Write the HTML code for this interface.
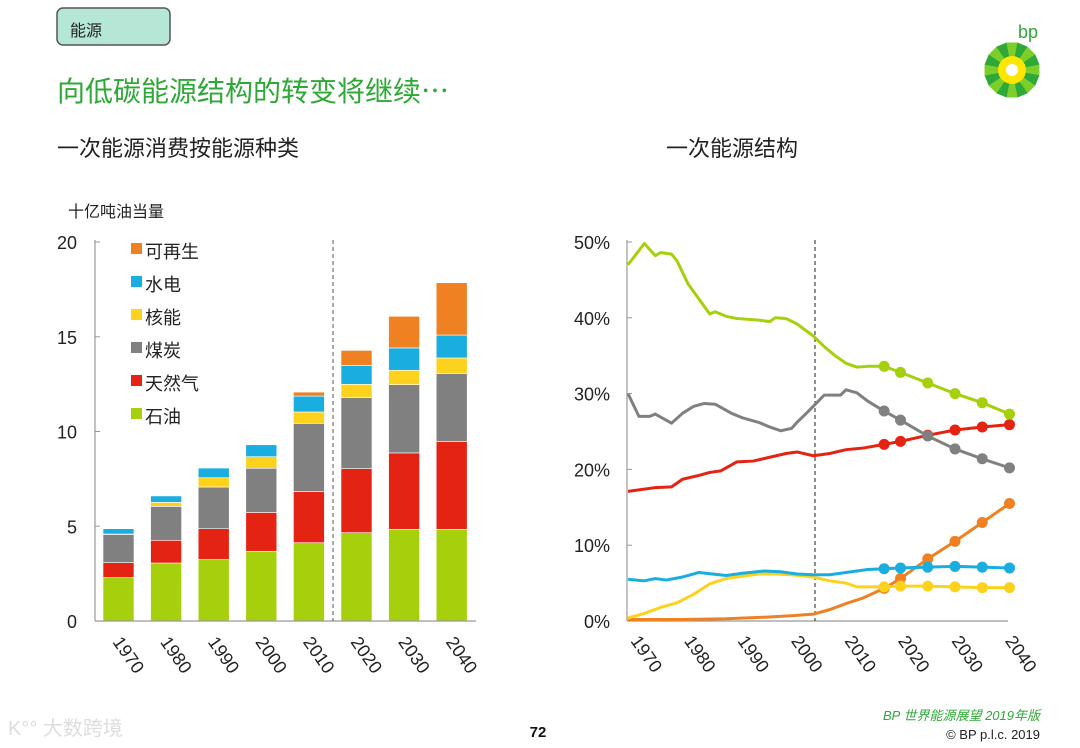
<!DOCTYPE html>
<html><head><meta charset="utf-8"><style>
html,body{margin:0;padding:0;background:#fff;width:1080px;height:748px;overflow:hidden}
svg{display:block;font-family:"Liberation Sans","Noto Sans CJK SC",sans-serif}
</style></head><body>
<svg id="s" width="1080" height="748" viewBox="0 0 1080 748" xmlns="http://www.w3.org/2000/svg">
<g>
<rect x="57" y="8" width="113" height="37" rx="6" fill="#b5e6d6" stroke="#555" stroke-width="1.5"/>
<text x="70" y="36" font-size="16" fill="#222">能源</text></g>
<text x="57" y="101" font-size="28" fill="#2ea836">向低碳能源结构的转变将继续⋯</text>
<text x="57" y="156" font-size="22" fill="#222">一次能源消费按能源种类</text>
<text x="666" y="156" font-size="22" fill="#222">一次能源结构</text>
<text x="68" y="217" font-size="16" fill="#222">十亿吨油当量</text>
<g>
<text x="1018" y="38" font-size="18" fill="#2ea836">bp</text>
<g id="sun"></g></g>
<g id="left"></g>
<g id="right"></g>
<text x="538" y="737" font-size="15" font-weight="bold" text-anchor="middle" fill="#111">72</text>
<text x="1040" y="720" font-size="13" fill="#2ea836" text-anchor="end" font-style="italic">BP 世界能源展望 2019年版</text>
<text x="1040" y="739" font-size="13" fill="#222" text-anchor="end">© BP p.l.c. 2019</text>
<text x="8" y="735" font-size="20" fill="#ddd">K°° 大数跨境</text>
</svg>
<script>
const NS="http://www.w3.org/2000/svg";
function mk(p,t,a){const e=document.createElementNS(NS,t);for(const k in a)e.setAttribute(k,a[k]);p.appendChild(e);return e;}
const sun=document.getElementById('sun');
for(let i=0;i<16;i++){const a=i*Math.PI/8,c=i%2?'#2ea836':'#7ccf2a';
mk(sun,'polygon',{points:[1012,70,1012+28*Math.cos(a-0.2),70+28*Math.sin(a-0.2),1012+28*Math.cos(a+0.2),70+28*Math.sin(a+0.2)].join(','),fill:c});}
mk(sun,'circle',{cx:1012,cy:70,r:14,fill:'#ffe600'});
mk(sun,'circle',{cx:1012,cy:70,r:6,fill:'#fff'});

// ===== Left stacked bar chart =====
const barYears=["1970","1980","1990","2000","2010","2020","2030","2040"];
const oil=[2.29,3.06,3.24,3.68,4.13,4.66,4.84,4.84];
const gas=[0.79,1.20,1.63,2.05,2.71,3.38,4.03,4.64];
const coal=[1.49,1.79,2.20,2.33,3.59,3.75,3.60,3.57];
const nuclear=[0.02,0.21,0.49,0.61,0.60,0.70,0.76,0.83];
const hydro=[0.28,0.34,0.51,0.63,0.84,1.00,1.18,1.21];
const renew=[0,0,0,0,0.21,0.79,1.67,2.76];
const barTicks=[0,5,10,15,20];
const series=[["oil",oil,"#a6cf0c","石油"],["gas",gas,"#e42313","天然气"],["coal",coal,"#808080","煤炭"],["nuclear",nuclear,"#fcd21c","核能"],["hydro",hydro,"#1aade0","水电"],["renewables",renew,"#f08123","可再生"]];
const L=document.getElementById('left');
const ly=v=>621-v*18.95, lx=i=>103+i*47.6;
barTicks.forEach(t=>{const e=mk(L,'text',{x:77,y:ly(t)+7,'font-size':18,'text-anchor':'end',fill:'#222'});e.textContent=t;


mk(L,'line',{x1:95,x2:100,y1:ly(t),y2:ly(t),stroke:'#999'});});
barYears.forEach((y,i)=>{let base=0;
series.forEach(s=>{const v=s[1][i];if(v>0){const r=mk(L,'rect',{x:lx(i),y:ly(base+v),width:31,height:v*18.95,fill:s[2],stroke:'#fff','stroke-width':0.6});

}base+=v;});
const t=mk(L,'text',{x:0,y:0,'font-size':18,fill:'#222',transform:`translate(${lx(i)+9},${642}) rotate(55)`});t.textContent=y;

});
mk(L,'line',{x1:95,x2:95,y1:240,y2:621,stroke:'#999','stroke-width':1.2});
mk(L,'line',{x1:95,x2:476,y1:621,y2:621,stroke:'#999','stroke-width':1.2});
mk(L,'line',{x1:333,x2:333,y1:240,y2:621,stroke:'#555','stroke-dasharray':'4,3'});
series.slice().reverse().forEach((s,k)=>{const y=250+k*33;
const r=mk(L,'rect',{x:131,y:y-7,width:11,height:11,fill:s[2]});


const t=mk(L,'text',{x:145,y:y+8,'font-size':18,fill:'#222'});t.textContent=s[3];

});

// ===== Right line chart =====
const pctTicks=[0,10,20,30,40,50];
const lineLabels=["1970","1980","1990","2000","2010","2020","2030","2040"];
const oilYears=[1970,1973,1975,1976,1978,1979,1981,1983,1985,1986,1988,1990,1992,1994,1996,1997,1999,2001,2004,2006,2008,2010,2012,2014,2017,2020,2025,2030,2035,2040];
const oilShare=[47,49.8,48.2,48.6,48.4,47.5,44.5,42.5,40.5,40.8,40.2,39.9,39.8,39.7,39.5,40,39.9,39.2,37.6,36.2,35,34,33.5,33.6,33.6,32.8,31.4,30,28.8,27.3];
const coalYears=[1970,1972,1974,1975,1978,1980,1982,1984,1986,1989,1991,1994,1996,1998,2000,2001,2003,2006,2009,2010,2012,2014,2017,2020,2025,2030,2035,2040];
const coalShare=[30,27,27,27.3,26.1,27.4,28.3,28.7,28.6,27.4,26.8,26.2,25.6,25.1,25.4,26.2,27.6,29.8,29.8,30.5,30.1,29,27.7,26.5,24.4,22.7,21.4,20.2];
const gasYears=[1970,1975,1978,1980,1983,1985,1987,1990,1993,1996,1999,2001,2004,2007,2010,2013,2017,2020,2025,2030,2035,2040];
const gasShare=[17.1,17.6,17.7,18.7,19.2,19.6,19.8,21,21.1,21.6,22.1,22.3,21.8,22.1,22.6,22.8,23.3,23.7,24.5,25.2,25.6,25.9];
const hydroYears=[1970,1973,1975,1977,1980,1983,1988,1991,1995,1998,2001,2004,2007,2010,2014,2017,2020,2025,2030,2035,2040];
const hydroShare=[5.5,5.3,5.6,5.4,5.8,6.4,6.0,6.3,6.6,6.5,6.2,6.1,6.1,6.4,6.8,6.9,7.0,7.1,7.2,7.1,7.0];
const nucYears=[1970,1973,1976,1979,1982,1985,1988,1991,1994,1997,2000,2004,2007,2010,2012,2014,2017,2020,2025,2030,2035,2040];
const nucShare=[0.4,1,1.8,2.4,3.5,4.9,5.6,5.9,6.2,6.2,6.1,5.8,5.3,5.0,4.5,4.5,4.5,4.6,4.6,4.5,4.4,4.4];
const renYears=[1970,1980,1988,1995,2000,2004,2007,2010,2013,2017,2020,2025,2030,2035,2040];
const renShare=[0.2,0.2,0.3,0.5,0.7,0.9,1.5,2.3,3.0,4.3,5.6,8.2,10.5,13,15.5];
const markerYears=[2017,2020,2025,2030,2035,2040];
const R=document.getElementById('right');
const rx=y=>628+(y-1970)*5.45, ry=v=>621-v*7.58;
pctTicks.forEach(t=>{const e=mk(R,'text',{x:610,y:ry(t)+7,'font-size':18,'text-anchor':'end',fill:'#222'});e.textContent=t+'%';


mk(R,'line',{x1:627,x2:632,y1:ry(t),y2:ry(t),stroke:'#999'});});
lineLabels.forEach((l,i)=>{const t=mk(R,'text',{x:0,y:0,'font-size':18,fill:'#222',transform:`translate(${630+i*53.5},${641}) rotate(55)`});t.textContent=l;

});
mk(R,'line',{x1:627,x2:627,y1:240,y2:621,stroke:'#999','stroke-width':1.2});
mk(R,'line',{x1:627,x2:1008,y1:621,y2:621,stroke:'#999','stroke-width':1.2});
mk(R,'line',{x1:815,x2:815,y1:240,y2:621,stroke:'#222','stroke-dasharray':'4,3'});
const lines=[["renewables",renYears,renShare,"#f08123"],["nuclear",nucYears,nucShare,"#fcd21c"],["hydro",hydroYears,hydroShare,"#1aade0"],["gas",gasYears,gasShare,"#e42313"],["coal",coalYears,coalShare,"#808080"],["oil",oilYears,oilShare,"#a6cf0c"]];
lines.forEach(s=>{const pts=s[1].map((y,i)=>rx(y)+','+ry(s[2][i])).join(' ');
const p=mk(R,'polyline',{points:pts,fill:'none',stroke:s[3],'stroke-width':3,'stroke-linejoin':'round'});


s[1].forEach((y,i)=>{if(markerYears.includes(y)){const c=mk(R,'circle',{cx:rx(y),cy:ry(s[2][i]),r:5.5,fill:s[3]});

}});});
</script>
</body></html>
